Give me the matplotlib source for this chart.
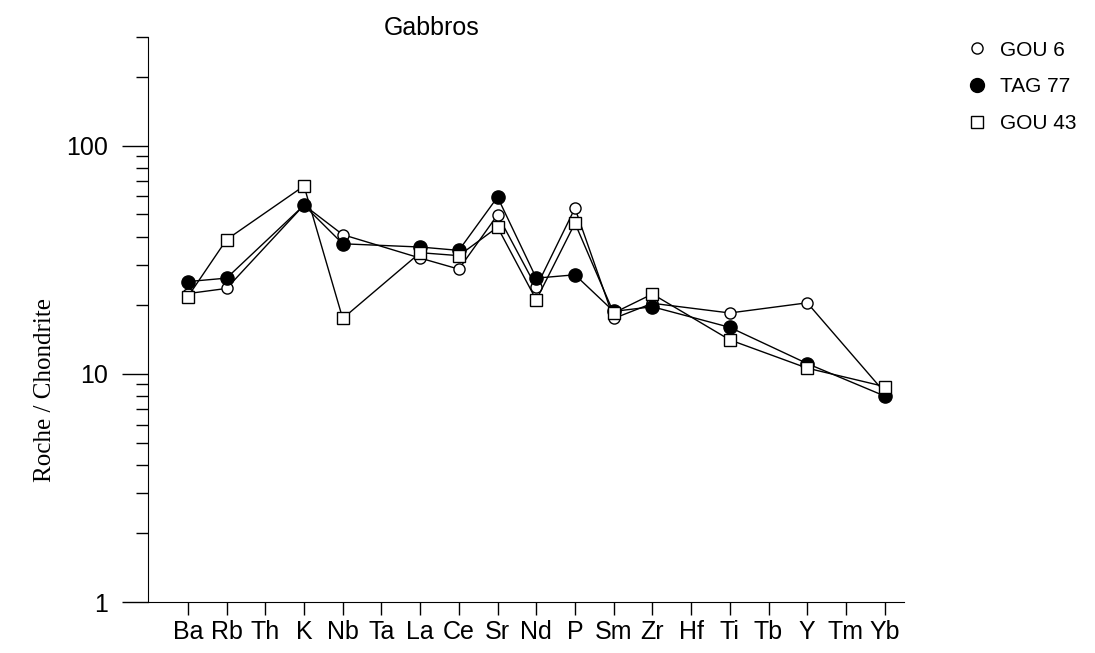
import numpy as np
import matplotlib.pyplot as plt
from matplotlib.ticker import LogLocator, NullFormatter, FixedLocator
from matplotlib.lines import Line2D

# element order on the x axis
elements = ['Ba', 'Rb', 'Th', 'K', 'Nb', 'Ta', 'La', 'Ce', 'Sr', 'Nd',
            'P', 'Sm', 'Zr', 'Hf', 'Ti', 'Tb', 'Y', 'Tm', 'Yb']

# elements actually analysed (Th, Ta, Hf, Tb, Tm missing)
measured = ['Ba', 'Rb', 'K', 'Nb', 'La', 'Ce', 'Sr', 'Nd',
            'P', 'Sm', 'Zr', 'Ti', 'Y', 'Yb']

gou6 = [22.5, 23.7, 55, 40.8, 32.2, 28.8, 49.8, 24, 53.3, 17.5, 20.4, 18.5, 20.5, 8.3]
tag77 = [25.4, 26.3, 54.9, 37.2, 36, 34.8, 59.6, 26.3, 27.2, 18.8, 19.7, 16, 11.1, 8.0]
gou43 = [21.8, 38.8, 66.7, 17.5, 34, 33, 44, 21.1, 45.8, 18.5, 22.4, 14.1, 10.6, 8.8]

x = [elements.index(e) for e in measured]

plt.rcParams['font.family'] = ['Liberation Sans', 'DejaVu Sans']

fig = plt.figure(figsize=(10.95, 6.53), dpi=100)
ax = fig.add_axes([148 / 1095, 1 - 602 / 653, (904 - 148) / 1095, (602 - 37) / 653])

ax.plot(x, gou6, '-', color='black', lw=1, marker='o', ms=8,
        mfc='white', mec='black', mew=1)
ax.plot(x, tag77, '-', color='black', lw=1, marker='o', ms=9.5,
        mfc='black', mec='black')
ax.plot(x, gou43, '-', color='black', lw=1, marker='s', ms=8,
        mfc='white', mec='black', mew=1)

ax.set_yscale('log')
ax.set_ylim(1, 300)
ax.set_xlim(-1.03, 18.5)

ax.set_xticks(range(len(elements)))
ax.set_xticklabels(elements, fontsize=18)
ax.yaxis.set_major_locator(FixedLocator([1, 10, 100]))
ax.set_yticklabels(['1', '10', '100'], fontsize=18)
ax.yaxis.set_minor_locator(LogLocator(base=10, subs=np.arange(2, 10)))
ax.yaxis.set_minor_formatter(NullFormatter())

ax.tick_params(axis='y', which='major', length=19, width=1, pad=10)
ax.tick_params(axis='y', which='minor', length=9, width=1)
ax.tick_params(axis='x', which='major', length=9, width=1, pad=4)

ax.spines['top'].set_visible(False)
ax.spines['right'].set_visible(False)

fig.text(45 / 1095, 1 - 390 / 653, 'Roche / Chondrite', fontsize=18,
         family=['Liberation Serif'], rotation=90, ha='center', va='center')
fig.text(432 / 1095, 1 - 28 / 653, 'Gabbros', fontsize=18, ha='center', va='center')

handles = [
    Line2D([], [], ls='none', marker='o', ms=8, mfc='white', mec='black'),
    Line2D([], [], ls='none', marker='o', ms=10, mfc='black', mec='black'),
    Line2D([], [], ls='none', marker='s', ms=8, mfc='white', mec='black'),
]
ax.legend(handles, ['GOU 6', 'TAG 77', 'GOU 43'], loc='upper left',
          bbox_to_anchor=(950 / 1095, 1 - 22 / 653),
          bbox_transform=fig.transFigure, frameon=False, fontsize=15,
          handlelength=0.8, handletextpad=0.7, labelspacing=0.85)

fig.savefig('out.png', dpi=100)
